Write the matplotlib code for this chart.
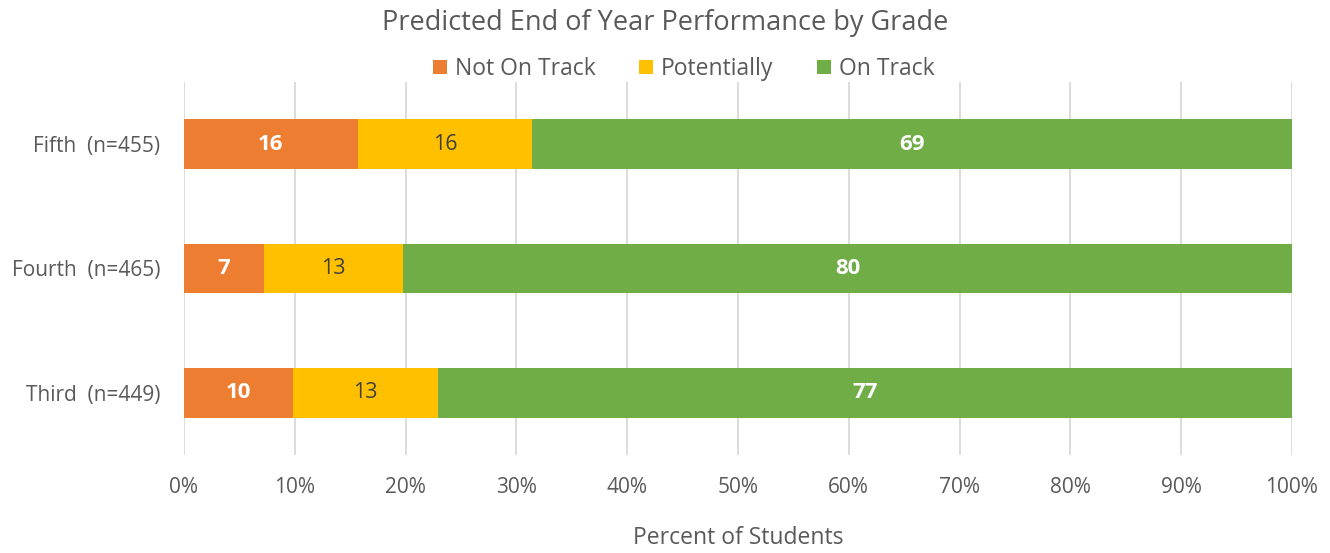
import numpy as np
import matplotlib.pyplot as plt

grades = ["Third  (n=449)", "Fourth  (n=465)", "Fifth  (n=455)"]
series = ["Not On Track", "Potentially", "On Track"]
not_on_track = [9.8, 7.2, 15.7]
potentially = [13.1, 12.6, 15.7]
on_track = [77.1, 80.2, 68.6]

colors = ["#ED7D31", "#FFC000", "#70AD47"]
label_colors = ["white", "#404040", "white"]
label_weights = ["bold", "normal", "bold"]
text_color = "#595959"

plt.rcParams["font.family"] = ["Open Sans", "DejaVu Sans"]

fig = plt.figure(figsize=(13.3, 5.53), dpi=100)
ax = fig.add_axes([0.1383, 0.177, 0.8331, 0.675])

y = np.arange(len(grades))
left = np.zeros(len(grades))
for name, vals, c, lc, lw in zip(series, [not_on_track, potentially, on_track],
                                 colors, label_colors, label_weights):
    vals = np.array(vals)
    bars = ax.barh(y, vals, left=left, height=0.4, color=c, label=name, zorder=3)
    for b, v in zip(bars, vals):
        ax.text(b.get_x() + b.get_width() / 2, b.get_y() + b.get_height() / 2,
                f"{v:.0f}", ha="center", va="center", color=lc,
                fontsize=16 if lw == "bold" else 15.5, fontweight=lw, zorder=4)
    left += vals

ax.set_xlim(0, 100)
ax.set_ylim(-0.5, 2.5)
ax.set_xticks(np.arange(0, 101, 10))
ax.set_xticklabels([f"{t}%" for t in range(0, 101, 10)])
ax.set_yticks(y)
ax.set_yticklabels(grades)
ax.tick_params(length=0, labelsize=15, labelcolor=text_color)
ax.tick_params(axis="x", pad=16)
ax.tick_params(axis="y", pad=17)
ax.grid(axis="x", color="#D9D9D9", linewidth=1.3, zorder=0)
for s in ax.spines.values():
    s.set_visible(False)

ax.set_xlabel("Percent of Students", fontsize=16.5, color=text_color, labelpad=20)
fig.text(0.5, 0.958, "Predicted End of Year Performance by Grade", ha="center",
         va="center", fontsize=19.5, color=text_color)
fig.legend(loc="center", bbox_to_anchor=(0.514, 0.875), ncol=3, frameon=False,
           fontsize=16.5, labelcolor=text_color, handlelength=0.6, handleheight=0.6,
           handletextpad=0.35, columnspacing=1.9)

fig.savefig("out.png", dpi=100)
